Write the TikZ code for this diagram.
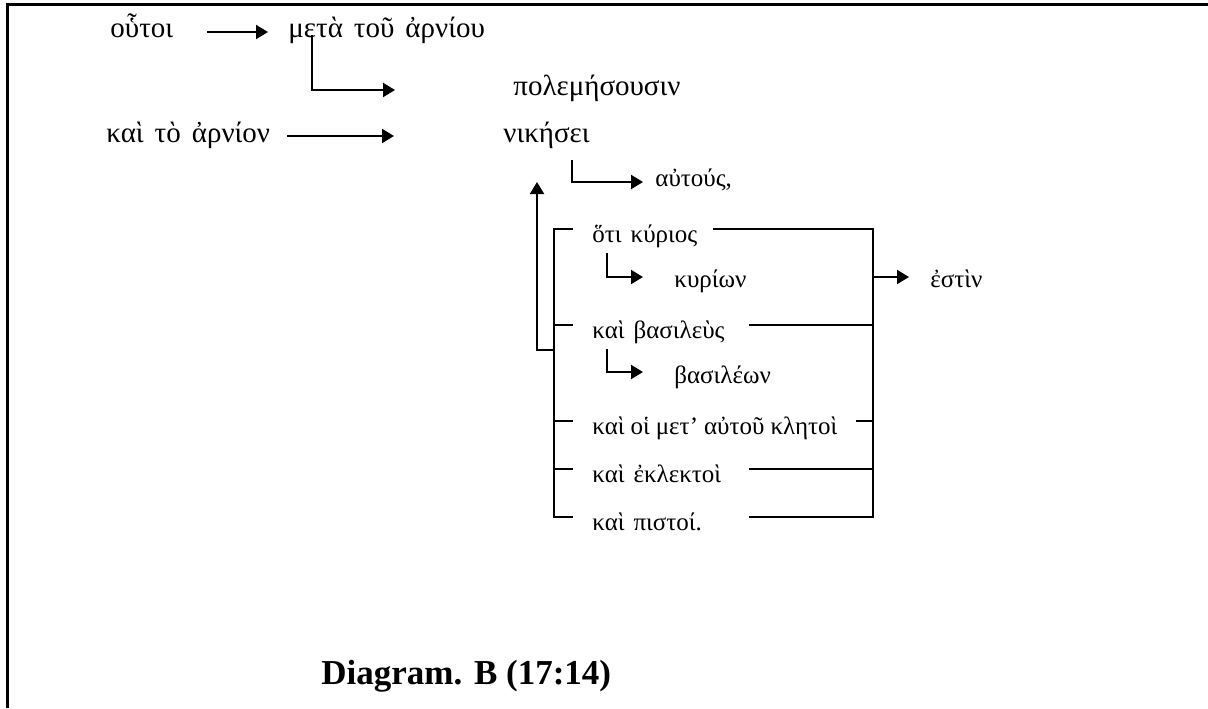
\documentclass[tikz,border=0pt]{standalone}
\usepackage{fontspec}
\setmainfont{Liberation Serif}
\newfontfamily\grkfont{Liberation Serif}
\newcommand\grksmall{\grkfont\fontsize{12.5}{14}\selectfont\spaceskip=4.5pt\relax}
\newcommand\grktight{\grkfont\fontsize{12.5}{14}\selectfont\spaceskip=3pt\relax}
\newcommand\grklarge{\grkfont\fontsize{14.5}{16}\selectfont\spaceskip=5.5pt\relax}
\usetikzlibrary{arrows.meta,calc}

\begin{document}
\begin{tikzpicture}[x=0.5pt,y=-0.5pt,
  grk/.style={font=\grksmall,anchor=base west,inner sep=0pt},
  grkbig/.style={grk,font=\grklarge},
  captxt/.style={font=\bfseries\fontsize{17.5}{19}\selectfont,anchor=base west,inner sep=0pt},
  ln/.style={line width=1pt},
  arr/.style={ln,-{Triangle[length=6pt,width=7pt]}},
  frm/.style={line width=1.5pt}]
\useasboundingbox (0,0) rectangle (1208,708);
\draw[frm] (1208,4) -- (7,4) -- (7,708);
% words
\node[grkbig] (outoi)   at (110,37)  {οὗτοι};
\node[grkbig] (meta)    at (288,37)  {μετὰ τοῦ ἀρνίου};
\node[grkbig] (polem)   at (513,95)  {πολεμήσουσιν};
\node[grkbig] (kai)     at (106,142) {καὶ τὸ ἀρνίον};
\node[grkbig] (nikesei) at (503,142) {νικήσει};
\node[grk] (autous)   at (655,186) {αὐτούς,};
\node[grk] (hoti)     at (592,242) {ὅτι κύριος};
\node[grk] (kyrion)   at (674,287) {κυρίων};
\node[grk] (estin)    at (930,287) {ἐστὶν};
\node[grk] (basileus) at (592,338) {καὶ βασιλεὺς};
\node[grk] (basileon) at (674,383) {βασιλέων};
\node[grk,font=\grktight] (kletoi) at (592,434) {καὶ οἱ μετ’ αὐτοῦ κλητοὶ};
\node[grk] (eklektoi) at (592,482) {καὶ ἐκλεκτοὶ};
\node[grk] (pistoi)   at (592,530) {καὶ πιστοί.};
\node[captxt] (caption) at (321,684) {Diagram. B (17:14)};
% arrows
\draw[arr] ($(outoi.base west)+(97,-5)$) -- ($(meta.base west)+(-20,-5)$);
\draw[arr] ($(meta.base west)+(24,-2)$) |- ($(polem.base west)+(-118,-5)$);
\draw[arr] ($(kai.base west)+(181,-6)$) -- ($(nikesei.base west)+(-109,-6)$);
\draw[arr] ($(nikesei.base west)+(69,18)$) |- ($(autous.base west)+(-12,-4)$);
\draw[arr] ($(basileus.base west)+(-38,12)$) -| ($(autous.base west)+(-118,-4)$);
\draw[arr] ($(hoti.base west)+(15,11)$) |- ($(kyrion.base west)+(-31,-10)$);
\draw[arr] ($(basileus.base west)+(15,11)$) |- ($(basileon.base west)+(-31,-11)$);
\draw[arr] ($(estin.base west)+(-57,-10)$) -- ($(estin.base west)+(-21,-10)$);
% bracket
\draw[ln] ($(hoti.base west)+(-19,-13)$) -| ($(pistoi.base west)+(-38,-13)$) -- ++(19,0);
\draw[ln] ($(hoti.base west)+(121,-13)$) -| ($(pistoi.base west)+(281,-13)$) -- ++(-124,0);
\foreach \n/\s/\l in {basileus/157/124,kletoi/264/17,eklektoi/157/124}{
   \draw[ln] ($(\n.base west)+(-38,-13)$) -- ++(19,0);
   \draw[ln] ($(\n.base west)+(\s,-13)$) -- ++(\l,0);
}
\end{tikzpicture}
\end{document}
